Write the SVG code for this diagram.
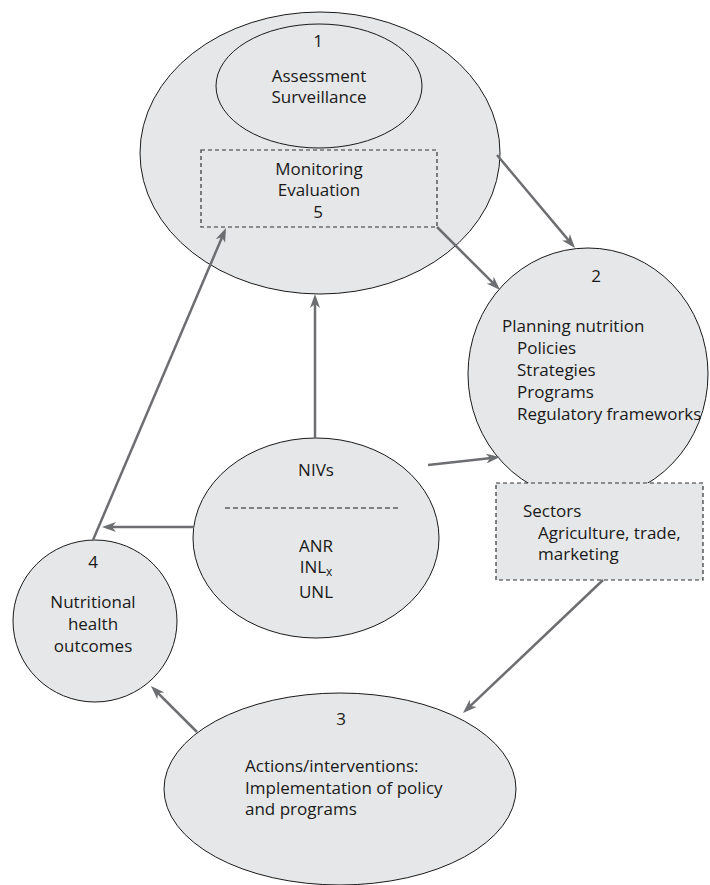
<svg xmlns="http://www.w3.org/2000/svg" width="710" height="885" viewBox="0 0 710 885">
<style>
.n{fill:#e6e7e8;stroke:#1a1a1a;stroke-width:1}
.d{fill:none;stroke:#333;stroke-width:1.2;stroke-dasharray:4,3}
.t{font-family:"Open Sans","Liberation Sans",sans-serif;font-size:17px;fill:#1a1a1a}
.c{text-anchor:middle}
.a{stroke:#6d6e71;stroke-width:2.5;fill:none;marker-end:url(#ah)}
</style>
<defs>
<marker id="ah" viewBox="0 0 14 10" refX="10" refY="5" markerWidth="14" markerHeight="10" markerUnits="userSpaceOnUse" orient="auto">
<path d="M0,0 L14,5 L0,10 L4,5 z" fill="#6d6e71"/>
</marker>
</defs>
<rect width="710" height="885" fill="#fff"/>
<g id="node1">
<ellipse class="n" cx="320" cy="153" rx="180" ry="141"/>
<ellipse class="n" cx="319" cy="86" rx="103" ry="62"/>
<text class="t c" x="318" y="47">1</text>
<text class="t c" x="319" y="82">Assessment</text>
<text class="t c" x="319" y="103">Surveillance</text>
</g>
<g id="node5">
<rect class="d" x="201" y="150" width="236" height="77"/>
<text class="t c" x="319" y="175">Monitoring</text>
<text class="t c" x="319" y="196">Evaluation</text>
<text class="t c" x="318" y="218">5</text>
</g>
<g id="node2">
<ellipse class="n" cx="588" cy="374" rx="120" ry="126"/>
<text class="t c" x="596" y="282">2</text>
<text class="t" x="502" y="332">Planning nutrition</text>
<text class="t" x="517" y="354">Policies</text>
<text class="t" x="517" y="376">Strategies</text>
<text class="t" x="517" y="398">Programs</text>
<text class="t" x="517" y="420">Regulatory frameworks</text>
</g>
<g id="sectors">
<rect x="496" y="483" width="207" height="97" fill="#e6e7e8" stroke="#333" stroke-width="1.2" stroke-dasharray="4,3"/>
<text class="t" x="523" y="517">Sectors</text>
<text class="t" x="538" y="539">Agriculture, trade,</text>
<text class="t" x="538" y="560">marketing</text>
</g>
<g id="nivs">
<ellipse class="n" cx="316" cy="538" rx="123" ry="100"/>
<text class="t c" x="316" y="476">NIVs</text>
<line x1="225" y1="508" x2="400" y2="508" stroke="#1a1a1a" stroke-width="1.2" stroke-dasharray="5,3"/>
<text class="t c" x="316" y="552">ANR</text>
<text class="t c" x="316" y="573">INL<tspan font-size="12" dy="3">x</tspan></text>
<text class="t c" x="316" y="598">UNL</text>
</g>
<g id="node4">
<ellipse class="n" cx="95" cy="621" rx="82" ry="81"/>
<text class="t c" x="93" y="568">4</text>
<text class="t c" x="93" y="608">Nutritional</text>
<text class="t c" x="93" y="630">health</text>
<text class="t c" x="93" y="652">outcomes</text>
</g>
<g id="node3">
<ellipse class="n" cx="340" cy="789" rx="176" ry="96"/>
<text class="t c" x="341" y="725">3</text>
<text class="t" x="245" y="772">Actions/interventions:</text>
<text class="t" x="245" y="794">Implementation of policy</text>
<text class="t" x="245" y="815">and programs</text>
</g>
<g id="connectors">
<line class="a" x1="497" y1="155" x2="572.4" y2="244.9"/>
<line class="a" x1="437" y1="227" x2="497.2" y2="287.2"/>
<line class="a" x1="315" y1="438" x2="315" y2="298"/>
<line class="a" x1="428" y1="465" x2="496" y2="457.4"/>
<line class="a" x1="194" y1="527" x2="106" y2="527"/>
<line class="a" x1="93" y1="540" x2="224.4" y2="231.7"/>
<line class="a" x1="603" y1="580" x2="465.9" y2="710.2"/>
<line class="a" x1="197" y1="732" x2="153.8" y2="688.8"/>
</g>
</svg>
